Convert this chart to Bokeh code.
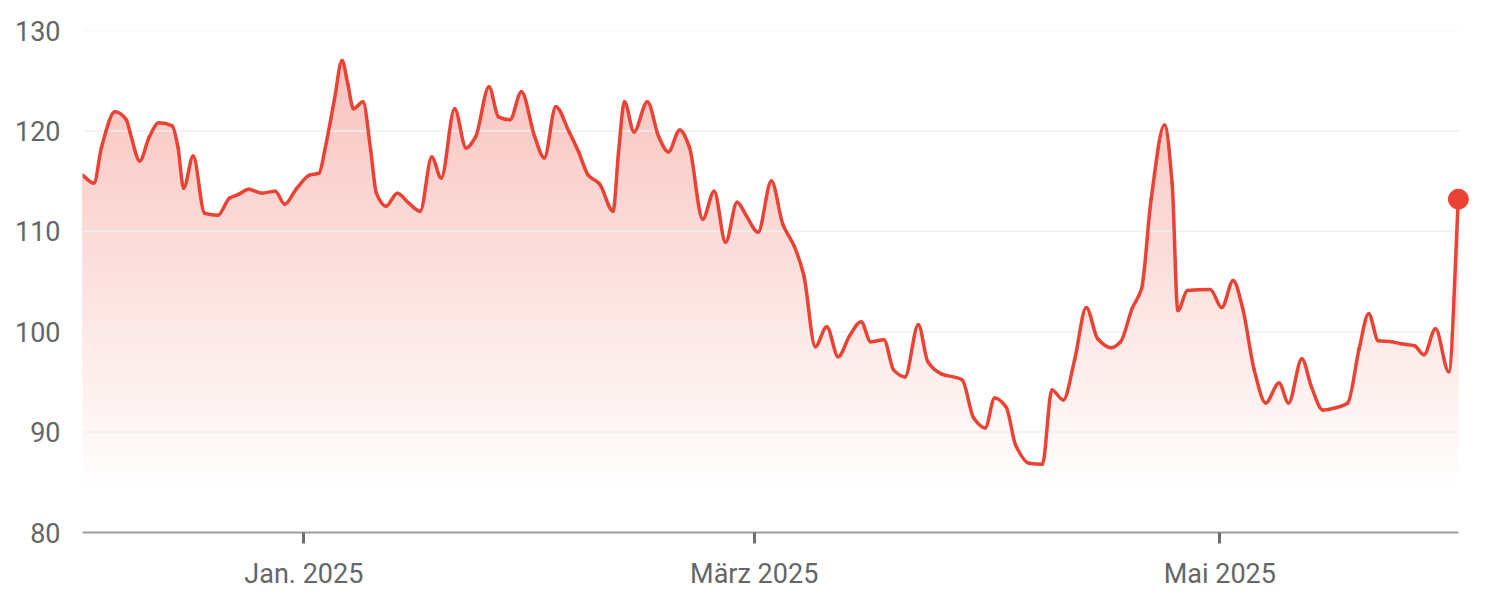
import numpy as np
import pandas as pd
from bokeh.plotting import figure
from bokeh.models import Range1d, FixedTicker
from bokeh.embed import file_html
from bokeh.resources import INLINE

# ---------------- data ----------------
start_date = "2024-12-03"
# offsets in days from start_date
day_offsets = [
    0, 1.5, 2.5, 4.25, 5.75, 6.25, 7.5, 8.75, 10, 11.75,
    12.5, 13.25, 14.5, 16, 17.75, 19.25, 20.5, 21.75, 23.5, 25.25,
    26.5, 28, 29.75, 31, 31.75, 33, 34, 34.75, 35.5, 36.75,
    37.75, 38.5, 39.75, 41.25, 42.75, 44.25, 45.75, 47, 48.75, 50.25,
    51.5, 53.25, 54.5, 56, 57.5, 59.25, 60.5, 62, 63.75, 65,
    66.25, 67.75, 69.5, 70.25, 71, 72.25, 74, 75.5, 76.75, 78.25,
    79.5, 81.25, 82.75, 84.25, 85.75, 87, 88.5, 90.25, 91.75, 93.25,
    94.5, 96, 97.5, 99, 100.5, 102, 103.25, 105, 106.25, 107.75,
    109.5, 110.75, 112.5, 115.25, 116.75, 118.25, 119.5, 121, 122.25, 124,
    125.75, 127, 128.5, 130, 131.5, 133, 134.75, 136, 137.5, 138.75,
    140, 141.75, 142.75, 143.5, 144.75, 147.75, 149.25, 150.75, 152, 153.5,
    155, 156.75, 158, 159.75, 161, 162.5, 164, 165.75, 167.25, 168.5,
    169.75, 171.5, 172.75, 174.5, 175.75, 177.25, 179, 180.25,
]
prices = [
    115.6, 114.8, 118.4, 121.9, 121.1, 119.8, 117.0, 119.4, 120.8, 120.5,
    118.4, 114.3, 117.5, 111.8, 111.6, 113.3, 113.7, 114.2, 113.8, 114.0,
    112.7, 114.2, 115.6, 115.8, 118.1, 123.1, 127.0, 124.7, 122.2, 122.9,
    118.1, 113.8, 112.5, 113.8, 112.8, 112.0, 117.4, 115.3, 122.2, 118.3,
    119.4, 124.4, 121.4, 121.1, 123.9, 119.4, 117.3, 122.4, 119.9, 117.9,
    115.6, 114.7, 112.0, 118.1, 122.9, 119.9, 122.9, 119.4, 117.9, 120.1,
    118.4, 111.2, 114.0, 108.9, 112.9, 111.5, 109.9, 115.0, 110.7, 108.5,
    105.6, 98.5, 100.5, 97.5, 99.6, 101.0, 99.0, 99.2, 96.2, 95.5,
    100.7, 97.0, 95.8, 95.2, 91.4, 90.4, 93.4, 92.5, 88.7, 86.9,
    86.8, 94.2, 93.2, 97.3, 102.4, 99.3, 98.4, 99.0, 102.3, 104.3,
    113.2, 120.6, 114.8, 102.1, 104.1, 104.2, 102.4, 105.1, 102.3, 96.2,
    92.9, 94.9, 92.9, 97.3, 94.5, 92.2, 92.4, 92.9, 98.3, 101.8,
    99.1, 99.0, 98.8, 98.6, 97.7, 100.3, 96.0, 113.2,
]
tick_dates = ["2025-01-01", "2025-03-01", "2025-05-01"]
tick_labels = ["Jan. 2025", "März 2025", "Mai 2025"]
y_ticks = [80, 90, 100, 110, 120, 130]

# ---------------- prep ----------------
start = pd.Timestamp(start_date)
dates = start + pd.to_timedelta(day_offsets, unit="D")
x = dates.to_pydatetime()
y = np.array(prices, dtype=float)
x_start = start.to_pydatetime()
x_end = (start + pd.Timedelta(days=182.1)).to_pydatetime()

RED = "#ea4335"
RED_RGB = (234, 67, 53)
FONT = "Roboto"
LABEL_COLOR = "#666666"

p = figure(
    width=1488, height=592,
    x_axis_type="datetime",
    x_range=Range1d(x_start, x_end),
    y_range=Range1d(80, 130),
    output_backend="svg", toolbar_location=None,
    min_border_left=82, min_border_right=16, min_border_top=30, min_border_bottom=57,
)
p.outline_line_color = None
p.background_fill_color = "white"
p.border_fill_color = "white"


def tint(t):
    r = [round(255 - t * (255 - c)) for c in RED_RGB]
    return "#%02x%02x%02x" % tuple(r)


# vertical gradient fill: opaque stacked layers, each covering the area above its level
slope, base, step = 0.0075, 84.5, 0.5
for L in np.arange(base, 130.0, step):
    t = slope * (L + step - base)
    r = p.varea(x=x, y1=np.minimum(y, L), y2=y, fill_color=tint(t), fill_alpha=1.0)
    r.level = "underlay"

# horizontal grid lines (ending where the series ends)
g = y_ticks[1:]
p.segment(x0=[x_start] * len(g), x1=[x[-1]] * len(g), y0=g, y1=g,
          line_color="#efefef", line_width=1.5)

# smooth (monotone cubic) line through the data points, drawn as Bezier segments
xd = np.array(day_offsets, dtype=float)
h = np.diff(xd)
d = np.diff(y) / h
m = np.zeros_like(y)
m[0], m[-1] = d[0], d[-1]
for i in range(1, len(y) - 1):
    if d[i - 1] * d[i] > 0:
        w1 = 2 * h[i] + h[i - 1]
        w2 = h[i] + 2 * h[i - 1]
        m[i] = (w1 + w2) / (w1 / d[i - 1] + w2 / d[i])
ms = (dates.asi8 // 10**6).astype(float)
hms = np.diff(ms)
p.bezier(
    x0=ms[:-1], y0=y[:-1], x1=ms[1:], y1=y[1:],
    cx0=ms[:-1] + hms / 3, cy0=y[:-1] + m[:-1] * h / 3,
    cx1=ms[1:] - hms / 3, cy1=y[1:] - m[1:] * h / 3,
    line_color=RED, line_width=3.5, line_cap="round",
)
p.scatter([x[-1]], [y[-1]], size=20, color=RED)

p.xgrid.visible = False
p.ygrid.visible = False

# y axis
p.yaxis.ticker = FixedTicker(ticks=y_ticks)
p.yaxis.axis_line_color = None
p.yaxis.major_tick_line_color = None
p.yaxis.minor_tick_line_color = None
p.yaxis.major_label_standoff = 16
p.yaxis.major_label_text_font = FONT
p.yaxis.major_label_text_font_size = "27px"
p.yaxis.major_label_text_color = LABEL_COLOR

# x axis
tick_ms = [int(pd.Timestamp(t).value // 10**6) for t in tick_dates]
p.xaxis.ticker = FixedTicker(ticks=tick_ms)
p.xaxis.major_label_overrides = {t: lab for t, lab in zip(tick_ms, tick_labels)}
p.xaxis.bounds = (x_start, x[-1])
p.xaxis.axis_line_color = "#9e9e9e"
p.xaxis.axis_line_width = 2
p.xaxis.major_tick_line_color = "#6e6e6e"
p.xaxis.major_tick_line_width = 3
p.xaxis.major_tick_out = 11
p.xaxis.major_tick_in = 0
p.xaxis.minor_tick_line_color = None
p.xaxis.major_label_standoff = 14
p.xaxis.major_label_text_font = FONT
p.xaxis.major_label_text_font_size = "27px"
p.xaxis.major_label_text_color = LABEL_COLOR

open("out.html", "w").write(file_html(p, INLINE))
